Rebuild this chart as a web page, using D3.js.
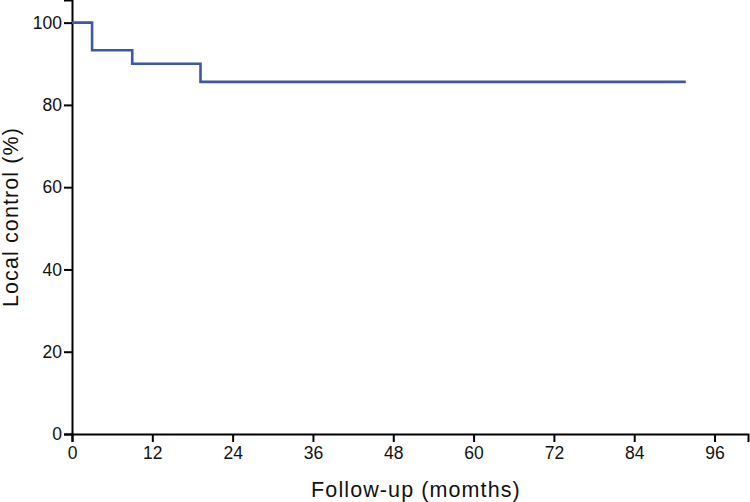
<!DOCTYPE html>
<html>
<head>
<meta charset="utf-8">
<script src="https://cdn.jsdelivr.net/npm/d3@7"></script>
<style>
  body { margin: 0; background: #fff; }
  svg { display: block; font-family: "Liberation Sans", Arial, sans-serif; }
  .axis path, .axis line { stroke: #000; stroke-width: 2px; }
  .axis text { font-size: 17.5px; fill: #111; }
  .axisLabel { font-size: 21.5px; fill: #111; letter-spacing: 1.1px; }
</style>
</head>
<body>
<svg id="chart" width="750" height="502"></svg>
<script>
// Kaplan-Meier steps (months, % local control)
var months = [0, 3, 9, 19.2, 91.7];
var localControl = [100, 93.3, 90.0, 85.6, 85.6];
var xTicks = [0, 12, 24, 36, 48, 60, 72, 84, 96];
var yTicks = [0, 20, 40, 60, 80, 100];

var dims = {width: 750, height: 502, margin: {top: 0, right: 2, bottom: 68, left: 72}};

var svg = d3.select("#chart");

var xScale = d3.scaleLinear()
    .domain([0, 101])
    .range([dims.margin.left, dims.width - dims.margin.right]);

var yScale = d3.scaleLinear()
    .domain([0, 105.5])
    .range([dims.height - dims.margin.bottom, dims.margin.top]);

var data = months.map(function(m, i) { return {t: m, s: localControl[i]}; });

svg.append("g")
    .attr("class", "axis axis--x")
    .attr("transform", "translate(0," + yScale(0) + ")")
    .call(d3.axisBottom(xScale).tickValues(xTicks).tickSizeOuter(0).tickSize(8).tickPadding(5));

svg.append("g")
    .attr("class", "axis axis--y")
    .attr("transform", "translate(" + xScale(0) + ",0)")
    .call(d3.axisLeft(yScale).tickValues(yTicks).tickSizeOuter(0).tickSize(8).tickPadding(2));

var line = d3.line()
    .curve(d3.curveStepAfter)
    .x(function(d) { return xScale(d.t); })
    .y(function(d) { return yScale(d.s); });

svg.append("path")
    .datum(data)
    .attr("fill", "none")
    .attr("stroke", "#3c58a6")
    .attr("stroke-width", 2.6)
    .attr("d", line);

svg.append("text")
    .attr("class", "axisLabel")
    .attr("x", 416)
    .attr("y", 497)
    .attr("text-anchor", "middle")
    .text("Follow-up (momths)");

svg.append("text")
    .attr("class", "axisLabel")
    .attr("transform", "translate(18," + 217 + ") rotate(-90)")
    .attr("text-anchor", "middle")
    .text("Local control (%)");
</script>
</body>
</html>
